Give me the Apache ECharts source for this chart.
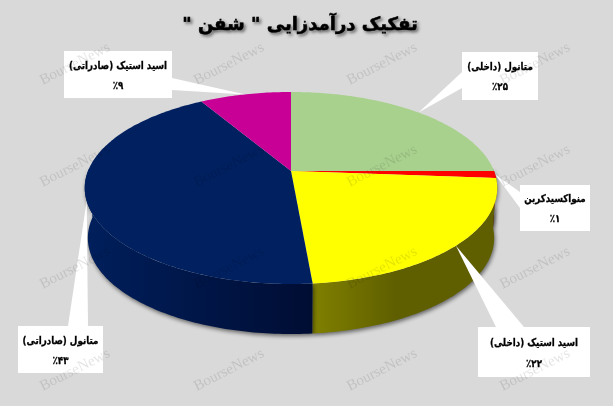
<!DOCTYPE html>
<html dir="rtl">
<head>
<meta charset="utf-8">
<style>html,body{margin:0;padding:0;background:#d9d9d9;overflow:hidden}#c{position:absolute;left:0;top:0;width:613px;height:406px}</style>
<script src="https://cdn.jsdelivr.net/npm/echarts@6/dist/echarts.min.js"></script>
</head>
<body>
<div id="c"></div>
<script>
const titleText = 'تفکیک درآمدزایی " شفن "';
const categories = ['متانول (داخلی)', 'منواکسیدکربن', 'اسید استیک (داخلی)', 'متانول (صادراتی)', 'اسید استیک (صادراتی)'];
const percentLabels = ['٪۲۵', '٪۱', '٪۲۲', '٪۴۳', '٪۹'];
const values = [25, 1.2, 22.4, 42.9, 8.5];
const sliceColors = ['#A9D18E', '#FF0000', '#FFFF00', '#002060', '#C80096'];

const chart = echarts.init(document.getElementById('c'), null, {renderer: 'canvas'});
const total = values.reduce((a, b) => a + b, 0);
const starts = [];
values.reduce((acc, v, i) => { starts[i] = acc; return acc + v; }, 0);

// projected disc
const P = {cx: 291, cy: 171, a: 203, b: 93, k: -0.177, depth: 50, shrink: 0.985};
function proj(deg, bottom) {
  const t = deg * Math.PI / 180, u = Math.sin(t), v = -Math.cos(t);
  const d = 1 + P.k * v, s = bottom ? P.shrink : 1;
  return [P.cx + P.a * s * u / d, P.cy + P.b * v / d + (bottom ? P.depth : 0)];
}
function arc(d0, d1, bottom) {
  const n = Math.max(2, Math.ceil(Math.abs(d1 - d0))), pts = [];
  for (let i = 0; i <= n; i++) pts.push(proj(d0 + (d1 - d0) * i / n, bottom));
  return pts;
}
const ang = i => [starts[i] / total * 360, (starts[i] + values[i]) / total * 360];

const WALL_FROM = 88, WALL_TO = 272;
const wallStops = [
  ['#6a8758', '#6a8758'],
  ['#800000', '#800000'],
  ['#808000', '#5f5f00'],
  ['#001f5c', '#000d33'],
  ['#640048', '#640048']
];

function renderWall(params, api) {
  const i = params.dataIndex;
  const [a0, a1] = ang(i);
  const from = Math.max(a0, WALL_FROM), to = Math.min(a1, WALL_TO);
  if (to <= from) return {type: 'group', children: []};
  const pts = arc(from, to, false).concat(arc(to, from, true));
  const stops = i === 2
    ? [{offset: 0, color: wallStops[i][0]}, {offset: 0.45, color: wallStops[i][1]}, {offset: 1, color: wallStops[i][1]}]
    : [{offset: 0, color: wallStops[i][0]}, {offset: 1, color: wallStops[i][1]}];
  return {
    type: 'polygon',
    shape: {points: pts},
    style: {
      fill: new echarts.graphic.LinearGradient(0, 0, 1, 0, stops),
      shadowBlur: 4, shadowColor: 'rgba(0,0,0,0.55)', shadowOffsetX: 1, shadowOffsetY: 2
    }
  };
}
function renderTop(params, api) {
  const i = params.dataIndex;
  const [a0, a1] = ang(i);
  return {
    type: 'polygon',
    shape: {points: [[P.cx, P.cy]].concat(arc(a0, a1, false))},
    style: {fill: sliceColors[i]}
  };
}
const boxes = [
  {x: 462, y: 52, w: 76, h: 48, base: [[462, 72], [462, 88]]},
  {x: 520, y: 185, w: 70, h: 46, base: [[520, 192], [520, 208]]},
  {x: 478, y: 327, w: 112, h: 50, base: [[496, 327], [524, 327]]},
  {x: 18, y: 326, w: 85, h: 47, base: [[68, 326], [88, 326]]},
  {x: 64, y: 51, w: 108, h: 47, base: [[172, 78], [172, 90]]}
];
function labelText(text, x, y) {
  return {
    type: 'text', x, y, scaleX: 0.83,
    style: {text, x: 0, y: 0, align: 'center', verticalAlign: 'middle',
      font: 'bold 10.5px "DejaVu Sans"', fill: '#000', stroke: '#000', lineWidth: 0.3}
  };
}
function renderLabel(params, api) {
  const i = params.dataIndex, b = boxes[i];
  const [a0, a1] = ang(i);
  const tip = proj((a0 + a1) / 2, false);
  const cx = b.x + b.w / 2;
  return {
    type: 'group',
    children: [
      {type: 'polygon', shape: {points: [b.base[0], tip, b.base[1]]}, style: {fill: '#fff'}},
      {type: 'rect', shape: {x: b.x, y: b.y, width: b.w, height: b.h}, style: {fill: '#fff'}},
      labelText(categories[i], cx, b.y + b.h * 0.32),
      labelText(percentLabels[i], cx, b.y + b.h * 0.74)
    ]
  };
}
const marks = [];
[229, 382, 535, 75].forEach(x => [64, 166, 268, 370].forEach(y => marks.push({
  type: 'text', x, y, rotation: 27 * Math.PI / 180, z: 50, silent: true,
  style: {text: 'BourseNews', x: 0, y: 0, align: 'center', verticalAlign: 'middle',
    font: '15px "Liberation Serif"', fill: 'rgba(0,0,0,0.11)'}
})));
const seriesData = values.map((v, i) => ({name: categories[i], value: v}));
chart.setOption({
  animation: false,
  backgroundColor: '#d9d9d9',
  title: {
    text: titleText, left: 295, top: 11, textAlign: 'center',
    textStyle: {fontFamily: 'DejaVu Sans', fontWeight: 'bold', fontSize: 18, color: '#000',
      textBorderColor: '#000', textBorderWidth: 0.5,
      textShadowColor: 'rgba(0,0,0,0.45)', textShadowBlur: 3, textShadowOffsetX: 2, textShadowOffsetY: 2}
  },
  graphic: marks,
  series: [
    {type: 'custom', coordinateSystem: 'none', z: 1, silent: true, data: seriesData, renderItem: renderWall},
    {type: 'custom', coordinateSystem: 'none', z: 2, silent: true, data: seriesData, renderItem: renderTop},
    {type: 'custom', coordinateSystem: 'none', z: 3, silent: true, data: seriesData, renderItem: renderLabel}
  ]
});
</script>
</body>
</html>
